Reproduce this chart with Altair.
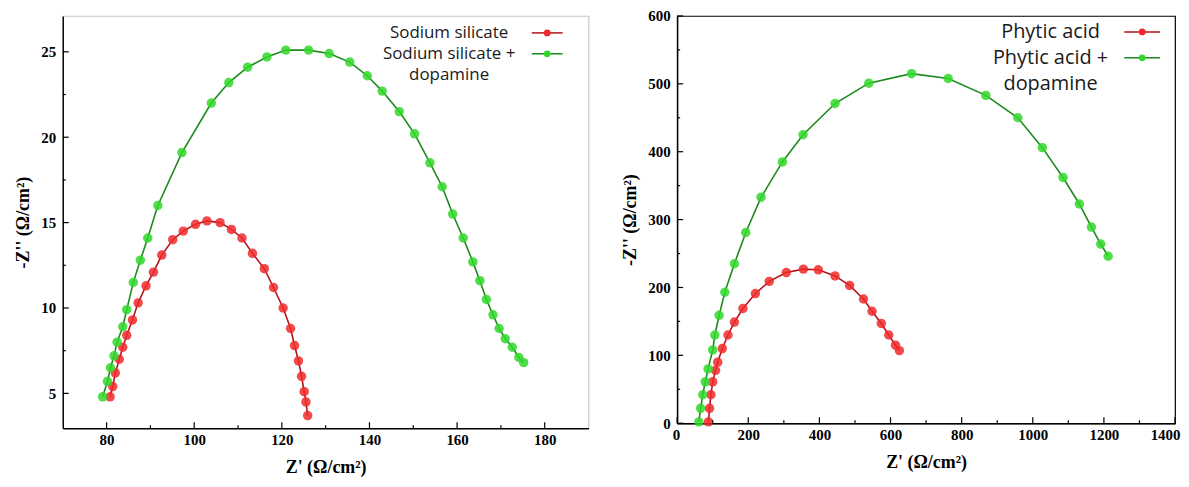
import altair as alt
import pandas as pd

# ---------------- data ----------------
# Left panel: Sodium silicate
ss_x = [80.8, 81.4, 82.0, 82.9, 83.7, 84.6, 85.9, 87.2, 89.0, 90.7, 92.6, 95.1, 97.5, 100.3,
        102.9, 105.9, 108.5, 110.9, 113.3, 116.0, 118.1, 120.3, 122.0, 122.9, 123.8, 124.5,
        125.1, 125.5, 125.9]
ss_y = [4.8, 5.4, 6.2, 7.0, 7.7, 8.4, 9.3, 10.3, 11.3, 12.1, 13.1, 14.0, 14.5, 14.9,
        15.1, 15.0, 14.6, 14.1, 13.2, 12.3, 11.2, 10.0, 8.8, 7.8, 6.9, 6.0,
        5.1, 4.5, 3.7]
# Left panel: Sodium silicate + dopamine
ssd_x = [79.1, 80.2, 80.9, 81.7, 82.4, 83.7, 84.6, 86.1, 87.7, 89.4, 91.7, 97.2, 103.9, 107.9,
         112.2, 116.6, 120.9, 126.1, 130.8, 135.5, 139.5, 142.9, 146.8, 150.3, 153.8, 156.6,
         159.0, 161.4, 163.6, 165.2, 166.7, 168.2, 169.6, 171.0, 172.6, 174.1, 175.2]
ssd_y = [4.8, 5.7, 6.5, 7.2, 8.0, 8.9, 9.9, 11.5, 12.8, 14.1, 16.0, 19.1, 22.0, 23.2,
         24.1, 24.7, 25.1, 25.1, 24.9, 24.4, 23.6, 22.7, 21.5, 20.2, 18.5, 17.1,
         15.5, 14.1, 12.7, 11.6, 10.5, 9.6, 8.8, 8.2, 7.7, 7.1, 6.8]
# Right panel: Phytic acid
pa_x = [88, 91, 95, 100, 108, 114, 127, 143, 161, 185, 220, 259, 307, 355, 397, 444, 485,
        524, 548, 574, 595, 614, 625]
pa_y = [2, 22, 42, 61, 78, 90, 110, 130, 149, 169, 191, 209, 222, 227, 226, 217, 203,
        183, 165, 147, 130, 115, 107]
# Right panel: Phytic acid + dopamine
pad_x = [61, 66, 72, 79, 87, 100, 106, 118, 134, 161, 193, 236, 296, 354, 444, 539, 659,
         762, 868, 958, 1027, 1085, 1131, 1165, 1191, 1212]
pad_y = [2, 22, 42, 61, 80, 108, 130, 159, 193, 235, 281, 333, 385, 425, 471, 501, 515,
         508, 483, 450, 406, 362, 323, 289, 264, 246]

left_names = ["Sodium silicate", "Sodium silicate +", "dopamine"]
right_names = ["Phytic acid", "Phytic acid +", "dopamine"]

left_xmajor = [80, 100, 120, 140, 160, 180]
left_xminor = [90, 110, 130, 150, 170]
left_ymajor = [5, 10, 15, 20, 25]
left_yminor = [7.5, 12.5, 17.5, 22.5]
right_xmajor = [0, 200, 400, 600, 800, 1000, 1200, 1400]
right_xminor = [100, 300, 500, 700, 900, 1100, 1300]
right_ymajor = [0, 100, 200, 300, 400, 500, 600]
right_yminor = [50, 150, 250, 350, 450, 550]

RED_LINE, RED_PT = "#b5121b", "#f02a2a"
GRN_LINE, GRN_PT = "#1c8a1c", "#30d82a"
SERIF = "Liberation Serif"
SANS = "Open Sans"


def series(xs, ys):
    return pd.DataFrame({"x": xs, "y": ys, "i": list(range(len(xs)))})


def panel(data_list, xdom, ydom, xmaj, xmin, ymaj, ymin, w, h, legend, view_stroke, xflush):
    xs = alt.Scale(domain=xdom, nice=False, zero=False)
    ys = alt.Scale(domain=ydom, nice=False, zero=False)
    common = dict(ticks=False, grid=False, format="d",
                  labelFont=SERIF, labelFontWeight="bold", labelFontSize=15, labelColor="black",
                  titleFont=SERIF, titleFontWeight="bold", titleFontSize=18, titleColor="black",
                  domainColor="black", domainWidth=1.4)
    if xflush:
        xax = alt.Axis(values=xmaj, labelPadding=4, titlePadding=11, title="Z' (Ω/cm²)",
                       labelFlush=True, labelFlushOffset=5, **common)
    else:
        xax = alt.Axis(values=xmaj, labelPadding=4, titlePadding=11, title="Z' (Ω/cm²)",
                       labelFlush=False, **common)
    yax = alt.Axis(values=ymaj, labelPadding=7, titlePadding=8, title="-Z'' (Ω/cm²)",
                   labelFlush=False, **common)
    X = lambda f: alt.X(f, scale=xs, axis=xax)
    Y = lambda f: alt.Y(f, scale=ys, axis=yax)
    layers = []
    for (xv, yv, lc, pc) in data_list:
        df = series(xv, yv)
        layers.append(alt.Chart(df).mark_line(color=lc, strokeWidth=1.6).encode(
            x=X("x:Q"), y=Y("y:Q"), order="i:Q"))
        layers.append(alt.Chart(df).mark_circle(color=pc, size=90, opacity=0.85).encode(
            x=X("x:Q"), y=Y("y:Q")))
    # inward ticks
    for vals, L in ((xmaj, 6), (xmin, 3)):
        d = pd.DataFrame({"v": vals})
        layers.append(alt.Chart(d).mark_rule(color="black", strokeWidth=1.2).encode(
            x=X("v:Q"), y=alt.value(h), y2=alt.value(h - L)))
    for vals, L in ((ymaj, 6), (ymin, 3)):
        d = pd.DataFrame({"v": vals})
        layers.append(alt.Chart(d).mark_rule(color="black", strokeWidth=1.2).encode(
            y=Y("v:Q"), x=alt.value(0), x2=alt.value(L)))
    # legend
    names, cx, rows, fs, lx1, lx2 = legend
    for name, ry in zip(names, rows):
        layers.append(alt.Chart(pd.DataFrame({"t": [name]})).mark_text(
            font=SANS, fontSize=fs, color="#1a1a1a", align="center", baseline="middle").encode(
            text="t:N", x=alt.value(cx), y=alt.value(ry)))
    for (lc, pc), ry in zip(((RED_LINE, RED_PT), (GRN_LINE, GRN_PT)), rows[:2]):
        layers.append(alt.Chart(pd.DataFrame({"t": [0]})).mark_rule(
            color=lc, strokeWidth=1.5).encode(x=alt.value(lx1), x2=alt.value(lx2), y=alt.value(ry)))
        layers.append(alt.Chart(pd.DataFrame({"t": [0]})).mark_circle(
            color=pc, size=45, opacity=1).encode(x=alt.value((lx1 + lx2) / 2), y=alt.value(ry)))
    return alt.layer(*layers).properties(
        width=w, height=h, view=alt.ViewBackground(stroke=view_stroke, strokeWidth=1.2))


left = panel([(ss_x, ss_y, RED_LINE, RED_PT), (ssd_x, ssd_y, GRN_LINE, GRN_PT)],
             [70, 190], [2.96, 27.1], left_xmajor, left_xminor, left_ymajor, left_yminor,
             528, 414, (left_names, 388, [17, 38, 59], 17, 471, 502), "#c8c8c8", False)
right = panel([(pa_x, pa_y, RED_LINE, RED_PT), (pad_x, pad_y, GRN_LINE, GRN_PT)],
              [0, 1400], [0, 600], right_xmajor, right_xminor, right_ymajor, right_yminor,
              500, 409, (right_names, 375, [16, 42, 68], 20, 449, 485), "black", True)

chart = alt.hconcat(left, right, spacing=31).properties(
    padding={"left": 6, "top": -1, "right": 0, "bottom": 0}
).configure_view(stroke="black")

chart.save("out.html", embed_options={"renderer": "svg", "actions": False})
